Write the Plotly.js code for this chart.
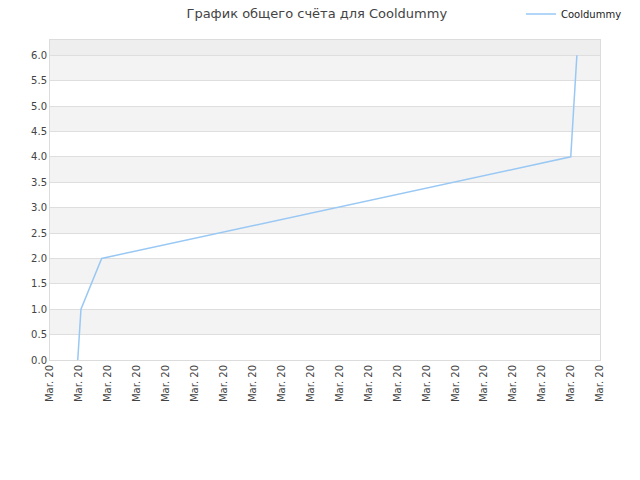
<!DOCTYPE html>
<html>
<head>
<meta charset="utf-8">
<script src="https://cdn.plot.ly/plotly-3.0.1.min.js"></script>
<style>
  html, body { margin: 0; padding: 0; background: #fff; }
  #chart { width: 640px; height: 480px; }
</style>
</head>
<body>
<div id="chart"></div>
<script>
const Plotly = window.Plotly;

// score history
const scoreTimes = ["2020-03-01 23:00", "2020-03-02 01:40", "2020-03-02 18:50", "2020-03-18 23:45", "2020-03-19 04:50"];
const scoreValues = [0, 1, 2, 4, 6];
const playerName = "Cooldummy";
const xRange = ["2020-03-01", "2020-03-20"];
const yRange = [0, 6.3];
const yTicks = [0, 0.5, 1, 1.5, 2, 2.5, 3, 3.5, 4, 4.5, 5, 5.5, 6];

const fontFamily = "DejaVu Sans, Verdana, sans-serif";

// alternating grey bands between the y gridlines
const bands = [];
for (let i = 0; i < yTicks.length; i++) {
    const lo = yTicks[i];
    const hi = i + 1 < yTicks.length ? yTicks[i + 1] : yRange[1];
    if (i % 2 === 1) {
        bands.push({
            type: "rect", xref: "paper", yref: "y", layer: "below",
            x0: 0, x1: 1, y0: lo, y1: hi,
            fillcolor: "#f3f3f3", line: { width: 0 }
        });
    }
}
bands.push({
    type: "rect", xref: "paper", yref: "y", layer: "below",
    x0: 0, x1: 1, y0: yTicks[yTicks.length - 1], y1: yRange[1],
    fillcolor: "#eeeeee", line: { width: 0 }
});

const trace = {
    x: scoreTimes,
    y: scoreValues,
    name: playerName,
    type: "scatter",
    mode: "lines",
    line: { color: "#99c8f4", width: 1.5 },
    showlegend: true
};

const layout = {
    width: 640,
    height: 480,
    font: { family: fontFamily, size: 10, color: "#444" },
    title: {
        text: "График общего счёта для " + playerName,
        font: { size: 13, color: "#444" },
        x: 0.495, xanchor: "center",
        y: 0.973, yanchor: "middle"
    },
    margin: { l: 50, r: 40, t: 40, b: 120, autoexpand: false },
    paper_bgcolor: "#ffffff",
    plot_bgcolor: "#ffffff",
    showlegend: true,
    legend: {
        xref: "container", yref: "container",
        x: 0.814, xanchor: "left",
        y: 0.971, yanchor: "middle",
        font: { size: 10, color: "#222" },
        bgcolor: "rgba(0,0,0,0)"
    },
    xaxis: {
        type: "date",
        range: xRange,
        dtick: 86400000,
        tick0: xRange[0],
        tickformat: "%b. %y",
        tickangle: -90,
        showgrid: false,
        zeroline: false,
        showline: true,
        linecolor: "#dcdcdc",
        mirror: true,
        ticks: "",
        tickfont: { size: 10, color: "#444" }
    },
    yaxis: {
        range: yRange,
        tickvals: yTicks,
        tickformat: ".1f",
        gridcolor: "#dedede",
        zeroline: false,
        showline: true,
        linecolor: "#dcdcdc",
        mirror: true,
        ticks: "",
        tickfont: { size: 10, color: "#444" }
    },
    shapes: bands
};

Plotly.newPlot("chart", [trace], layout, { displayModeBar: false, staticPlot: true });
</script>
</body>
</html>
